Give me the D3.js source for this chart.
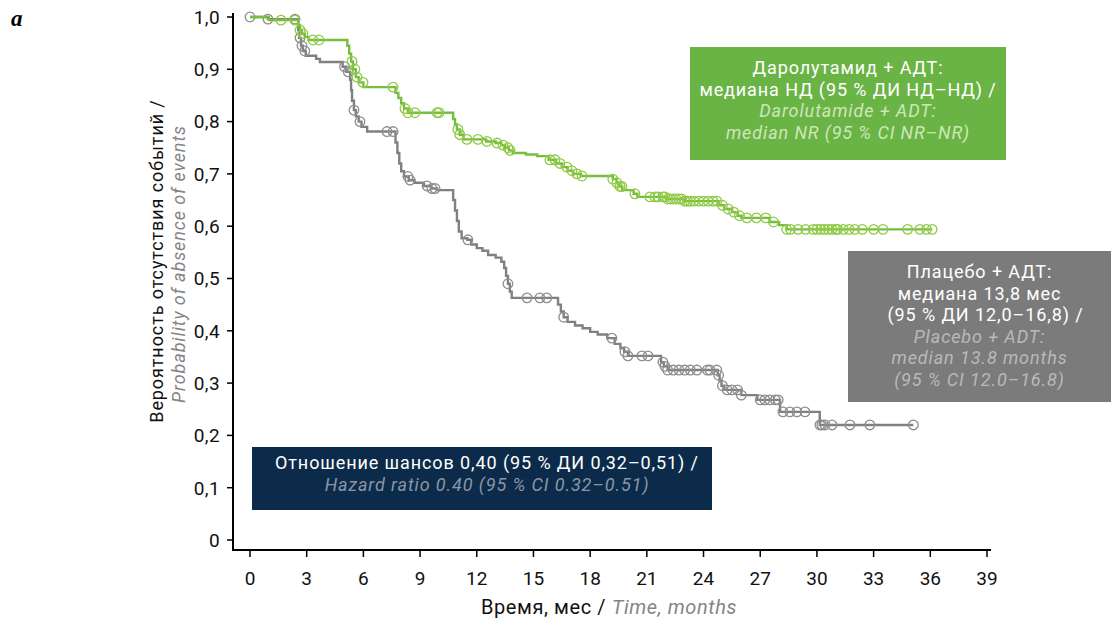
<!DOCTYPE html>
<html>
<head>
<meta charset="utf-8">
<script src="https://cdn.jsdelivr.net/npm/d3@7"></script>
<style>
  body { margin: 0; background: #fff; }
  svg text { font-family: Roboto, "Open Sans", sans-serif; }
  svg text.letter { font-family: "Liberation Serif", "DejaVu Serif", serif; }
</style>
</head>
<body>
<svg id="chart" width="1113" height="625"></svg>
<script>
// Axis ticks
const xTicks = [0, 3, 6, 9, 12, 15, 18, 21, 24, 27, 30, 33, 36, 39];
const yTicks = [0, 0.1, 0.2, 0.3, 0.4, 0.5, 0.6, 0.7, 0.8, 0.9, 1.0];

// Darolutamide + ADT: Kaplan–Meier step points (months, survival) and censoring times
const darolTime = [0, 1.0, 2.55, 2.65, 2.75, 2.9, 3.1, 5.15, 5.25, 5.35, 5.45, 5.6, 5.75, 6.0,
  7.7, 7.85, 8.0, 8.15, 8.35, 10.75, 10.85, 10.95, 11.1, 11.3, 12.5, 13.0, 13.3, 13.5, 13.7, 13.9,
  14.6, 15.2, 15.8, 16.2, 16.5, 16.8, 17.1, 17.5, 19.2, 19.4, 19.55, 19.7, 20.3, 20.5, 22.0, 23.0,
  24.8, 25.1, 25.5, 25.8, 26.0, 27.5, 28.0, 28.4];
const darolSurv = [1.0, 0.994, 0.985, 0.975, 0.968, 0.962, 0.956, 0.945, 0.93, 0.915, 0.9, 0.885, 0.875, 0.866,
  0.855, 0.845, 0.835, 0.825, 0.817, 0.805, 0.795, 0.785, 0.775, 0.766, 0.762, 0.759, 0.755, 0.75, 0.745, 0.74,
  0.737, 0.734, 0.727, 0.72, 0.713, 0.706, 0.70, 0.696, 0.69, 0.683, 0.676, 0.669, 0.662, 0.656, 0.652, 0.648,
  0.64, 0.633, 0.627, 0.62, 0.616, 0.608, 0.602, 0.594];
const darolCensor = [1.64, 2.38, 2.65, 2.8, 3.33, 3.65, 5.4, 5.55, 5.66, 5.98, 7.57, 8.2, 8.36, 8.73, 9.9, 10.0,
  11.0, 11.1, 11.48, 12.06, 12.54, 13.07, 13.39, 13.65, 13.76, 15.87, 16.14, 16.4, 16.77, 17.04, 17.3, 17.57,
  19.2, 19.42, 19.58, 19.68, 20.37, 21.16, 21.43, 21.59, 21.85, 21.95, 22.1, 22.25, 22.4, 22.55, 22.7, 22.85,
  23.0, 23.15, 23.3, 23.5, 23.75, 24.0, 24.25, 24.5, 24.7, 25.0, 25.3, 25.6, 25.9, 26.3, 26.8, 27.3, 27.7,
  28.4, 28.6, 29.0, 29.4, 29.8, 30.0, 30.2, 30.4, 30.6, 30.8, 31.0, 31.1, 31.4, 31.7, 32.0, 32.4, 33.0, 33.5,
  34.8, 35.45, 35.8, 36.1];

// Placebo + ADT
const placTime = [0, 0.95, 2.55, 2.6, 2.7, 2.8, 2.95, 3.5, 3.7, 4.9, 5.1, 5.3, 5.35, 5.4, 5.5, 5.6, 5.75, 5.9, 6.2,
  7.7, 7.8, 7.9, 8.0, 8.15, 8.4, 8.7, 9.2, 9.6, 9.9, 10.75, 10.85, 10.95, 11.05, 11.2, 11.5, 11.7, 12.0, 12.3,
  12.6, 13.0, 13.3, 13.45, 13.55, 13.65, 13.75, 13.85, 16.3, 16.45, 16.6, 16.8, 17.2, 17.6, 18.0, 18.4, 18.9,
  19.3, 19.6, 19.8, 20.0, 21.75, 21.9, 22.1, 24.75, 24.85, 24.95, 25.1, 26.0, 26.85, 28.05, 30.15];
const placSurv = [1.0, 0.996, 0.975, 0.96, 0.945, 0.935, 0.926, 0.92, 0.914, 0.905, 0.895, 0.88, 0.86, 0.84, 0.822,
  0.81, 0.8, 0.79, 0.781, 0.76, 0.74, 0.72, 0.705, 0.695, 0.688, 0.683, 0.677, 0.672, 0.669, 0.65, 0.63, 0.61,
  0.59, 0.577, 0.574, 0.565, 0.558, 0.553, 0.545, 0.54, 0.532, 0.52, 0.505, 0.49, 0.475, 0.463, 0.45, 0.437,
  0.426, 0.417, 0.41, 0.405, 0.398, 0.393, 0.386, 0.375, 0.367, 0.36, 0.352, 0.34, 0.332, 0.325, 0.315, 0.305,
  0.295, 0.287, 0.277, 0.268, 0.245, 0.22];
const placCensor = [0, 0.95, 2.38, 2.65, 2.75, 2.9, 5.0, 5.2, 5.5, 5.82, 7.25, 7.57, 8.36, 8.47, 9.37, 9.63, 9.79,
  11.53, 13.65, 14.66, 15.34, 15.7, 16.6, 19.15, 19.84, 20.0, 20.74, 21.06, 21.85, 21.96, 22.1, 22.4, 22.7,
  23.0, 23.3, 23.65, 24.2, 24.34, 24.7, 24.8, 25.0, 25.25, 25.5, 25.8, 26.0, 27.0, 27.25, 27.5, 27.8, 27.95,
  28.2, 28.57, 28.94, 29.37, 30.16, 30.26, 30.42, 30.8, 31.75, 32.8, 35.1];

const svg = d3.select("#chart");

const x = d3.scaleLinear().domain([0, 39]).range([250, 987]);
const y = d3.scaleLinear().domain([0, 1]).range([540, 17]);

const axisX0 = 233, axisY0 = 550;

// Axis lines
svg.append("line").attr("x1", axisX0).attr("x2", axisX0).attr("y1", 13).attr("y2", axisY0 + 1)
  .attr("stroke", "#000").attr("stroke-width", 2);
svg.append("line").attr("x1", axisX0 - 1).attr("x2", 991).attr("y1", axisY0).attr("y2", axisY0)
  .attr("stroke", "#000").attr("stroke-width", 2);

// Y ticks
const fmtY = v => v === 0 ? "0" : v.toFixed(1).replace(".", ",");
const yG = svg.append("g");
yTicks.forEach(v => {
  yG.append("line").attr("x1", axisX0 - 6).attr("x2", axisX0).attr("y1", y(v)).attr("y2", y(v))
    .attr("stroke", "#000").attr("stroke-width", 1.5);
  yG.append("text").attr("x", 220).attr("y", y(v)).attr("dy", "0.36em")
    .attr("text-anchor", "end").attr("font-size", 19).attr("letter-spacing", 0.4)
    .attr("fill", "#111").text(fmtY(v));
});

// X ticks
const xG = svg.append("g");
xTicks.forEach(t => {
  xG.append("line").attr("x1", x(t)).attr("x2", x(t)).attr("y1", axisY0).attr("y2", axisY0 + 7)
    .attr("stroke", "#000").attr("stroke-width", 1.5);
  xG.append("text").attr("x", x(t)).attr("y", 578).attr("dy", "0.36em")
    .attr("text-anchor", "middle").attr("font-size", 19).attr("fill", "#111").text(t);
});

// Axis titles
const xt = svg.append("text").attr("x", 609).attr("y", 607).attr("dy", "0.36em")
  .attr("text-anchor", "middle").attr("font-size", 20).attr("letter-spacing", 0.6);
xt.append("tspan").attr("fill", "#111").text("Время, мес / ");
xt.append("tspan").attr("fill", "#858585").attr("font-style", "italic").text("Time, months");

const yt = svg.append("g").attr("transform", "translate(157,261) rotate(-90)");
yt.append("text").attr("x", 0).attr("y", 0).attr("dy", "0.36em").attr("text-anchor", "middle")
  .attr("font-size", 18).attr("letter-spacing", 0.9).attr("fill", "#111")
  .text("Вероятность отсутствия событий /");
yt.append("text").attr("x", -3).attr("y", 21.5).attr("dy", "0.36em").attr("text-anchor", "middle")
  .attr("font-size", 18).attr("letter-spacing", 0.9).attr("fill", "#858585").attr("font-style", "italic")
  .text("Probability of absence of events");

// Panel letter
svg.append("text").attr("class", "letter").attr("x", 11).attr("y", 26)
  .attr("font-weight", "bold").attr("font-style", "italic").attr("font-size", 23).attr("fill", "#000").text("a");

// Kaplan–Meier curves
function drawCurve(times, surv, censor, lineColor, markColor) {
  const end = d3.max(censor);
  const pts = times.map((t, i) => [t, surv[i]]);
  pts.push([end, surv[surv.length - 1]]);
  const line = d3.line().x(d => x(d[0])).y(d => y(d[1])).curve(d3.curveStepAfter);
  svg.append("path").datum(pts).attr("d", line).attr("fill", "none")
    .attr("stroke", lineColor).attr("stroke-width", 2.4);
  const bis = d3.bisector(d => d).right;
  const survAt = t => surv[Math.max(0, bis(times, t) - 1)];
  svg.append("g").selectAll("circle").data(censor).join("circle")
    .attr("cx", d => x(d)).attr("cy", d => y(survAt(d))).attr("r", 4.8)
    .attr("fill", "none").attr("stroke", markColor).attr("stroke-width", 1.3);
}
drawCurve(placTime, placSurv, placCensor, "#808080", "#8e8e8e");
drawCurve(darolTime, darolSurv, darolCensor, "#77bd3f", "#90ca45");

// Annotation boxes
function box(x0, y0, w, h, fill, lines) {
  svg.append("rect").attr("x", x0).attr("y", y0).attr("width", w).attr("height", h).attr("fill", fill);
  lines.forEach(l => {
    svg.append("text").attr("x", x0 + w / 2 + (l.dx || 0)).attr("y", l.y).attr("dy", "0.36em")
      .attr("text-anchor", "middle").attr("font-size", 18).attr("letter-spacing", 0.9)
      .attr("font-style", l.italic ? "italic" : "normal").attr("fill", l.color).text(l.text);
  });
}

box(690, 47, 316, 113, "#6ab446", [
  { text: "Даролутамид + АДТ:", y: 68, color: "#ffffff" },
  { text: "медиана НД (95\u00a0% ДИ НД–НД) /", y: 89.5, color: "#ffffff" },
  { text: "Darolutamide + ADT:", y: 111, color: "#cfe6b8", italic: true },
  { text: "median NR (95\u00a0% CI NR–NR)", y: 132.5, color: "#cfe6b8", italic: true }
]);

box(848, 251, 263, 151, "#7b7b7b", [
  { text: "Плацебо + АДТ:", y: 272, color: "#ffffff" },
  { text: "медиана 13,8 мес", y: 293.5, color: "#ffffff" },
  { text: "(95\u00a0% ДИ 12,0–16,8) /", y: 315, color: "#ffffff", dx: 6 },
  { text: "Placebo + ADT:", y: 336.5, color: "#b9b9b9", italic: true },
  { text: "median 13.8 months", y: 358, color: "#b9b9b9", italic: true },
  { text: "(95\u00a0% CI 12.0–16.8)", y: 379.5, color: "#b9b9b9", italic: true }
]);

box(252, 447, 460, 63, "#0c2b4a", [
  { text: "Отношение шансов 0,40 (95\u00a0% ДИ 0,32–0,51) /", y: 463, color: "#ffffff", dx: 5 },
  { text: "Hazard ratio 0.40 (95\u00a0% CI 0.32–0.51)", y: 484.5, color: "#8a96a6", italic: true, dx: 5 }
]);
</script>
</body>
</html>
